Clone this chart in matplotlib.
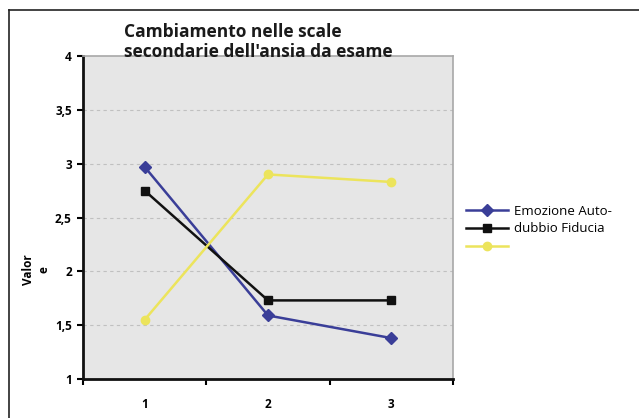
import matplotlib
matplotlib.use('Agg')
import matplotlib.pyplot as plt
from matplotlib.lines import Line2D

plt.rcParams['font.family'] = ['Open Sans', 'DejaVu Sans']

# dati
categorie = [1, 2, 3]
etichette_x = ['1', '2', '3']
emozione = [2.97, 1.59, 1.38]
autodubbio = [2.75, 1.73, 1.73]
fiducia = [1.55, 2.90, 2.83]
y_ticks = [1, 1.5, 2, 2.5, 3, 3.5, 4]
y_labels = ['1', '1,5', '2', '2,5', '3', '3,5', '4']
legenda = ['Emozione Auto-', 'dubbio Fiducia', '']

blu = '#3a3e98'
nero = '#111111'
giallo = '#ece45c'

fig = plt.figure(figsize=(6.39, 4.18), dpi=100)
ax = fig.add_axes([83 / 639, 39 / 418, 370 / 639, 323 / 418])
ax.set_facecolor('#e6e6e6')

l1, = ax.plot(categorie, emozione, color=blu, lw=1.8, marker='D', ms=6.5)
l2, = ax.plot(categorie, autodubbio, color=nero, lw=1.8, marker='s', ms=6)
l3, = ax.plot(categorie, fiducia, color=giallo, lw=1.8, marker='o', ms=6)

ax.set_xlim(0.5, 3.5)
ax.set_ylim(1, 4)
ax.set_yticks(y_ticks)
ax.set_yticklabels(y_labels, fontsize=8.5, fontweight='bold')
ax.set_xticks([0.5, 1.5, 2.5, 3.5])
ax.set_xticklabels([])
ax.set_xticks(categorie, minor=True)
ax.set_xticklabels(etichette_x, minor=True, fontsize=8.5, fontweight='bold')
ax.tick_params(axis='x', which='minor', length=0, pad=14)
ax.tick_params(axis='x', which='major', length=4, width=1.5, direction='out')
ax.tick_params(axis='y', length=4, width=1.5, direction='out', pad=4)

for v in y_ticks[1:-1]:
    ax.axhline(v, color='#c0c0c0', lw=0.8, ls=(0, (3, 3)), zorder=0.5)

ax.spines['left'].set_linewidth(2)
ax.spines['bottom'].set_linewidth(2)
ax.spines['left'].set_color('#111111')
ax.spines['bottom'].set_color('#111111')
ax.spines['top'].set_color('#a8a8a8')
ax.spines['right'].set_color('#a8a8a8')
ax.spines['top'].set_linewidth(1.2)
ax.spines['right'].set_linewidth(1.2)

fig.text(124 / 639, 1 - 23 / 418, "Cambiamento nelle scale\nsecondarie dell'ansia da esame",
         fontsize=12.5, fontweight='bold', ha='left', va='top', linespacing=1.15,
         color='#1a1a1a')

fig.text(36 / 639, 1 - 270 / 418, 'Valor\ne', rotation=90, fontsize=8.5, fontweight='bold',
         ha='center', va='center', multialignment='center')

fig.legend([l1, l2, l3], legenda, loc='center left',
           bbox_to_anchor=(466 / 639, 1 - 229 / 418), frameon=False,
           fontsize=9.5, handlelength=3.2, handletextpad=0.45, labelspacing=0.35,
           borderpad=0, borderaxespad=0)

# bordo ritagliato (solo in alto e a sinistra)
fig.add_artist(Line2D([9 / 639, 1], [1 - 10 / 418, 1 - 10 / 418], color='#222222', lw=1.2))
fig.add_artist(Line2D([9 / 639, 9 / 639], [0, 1 - 10 / 418], color='#222222', lw=1.2))

fig.savefig('out.png', dpi=100)
